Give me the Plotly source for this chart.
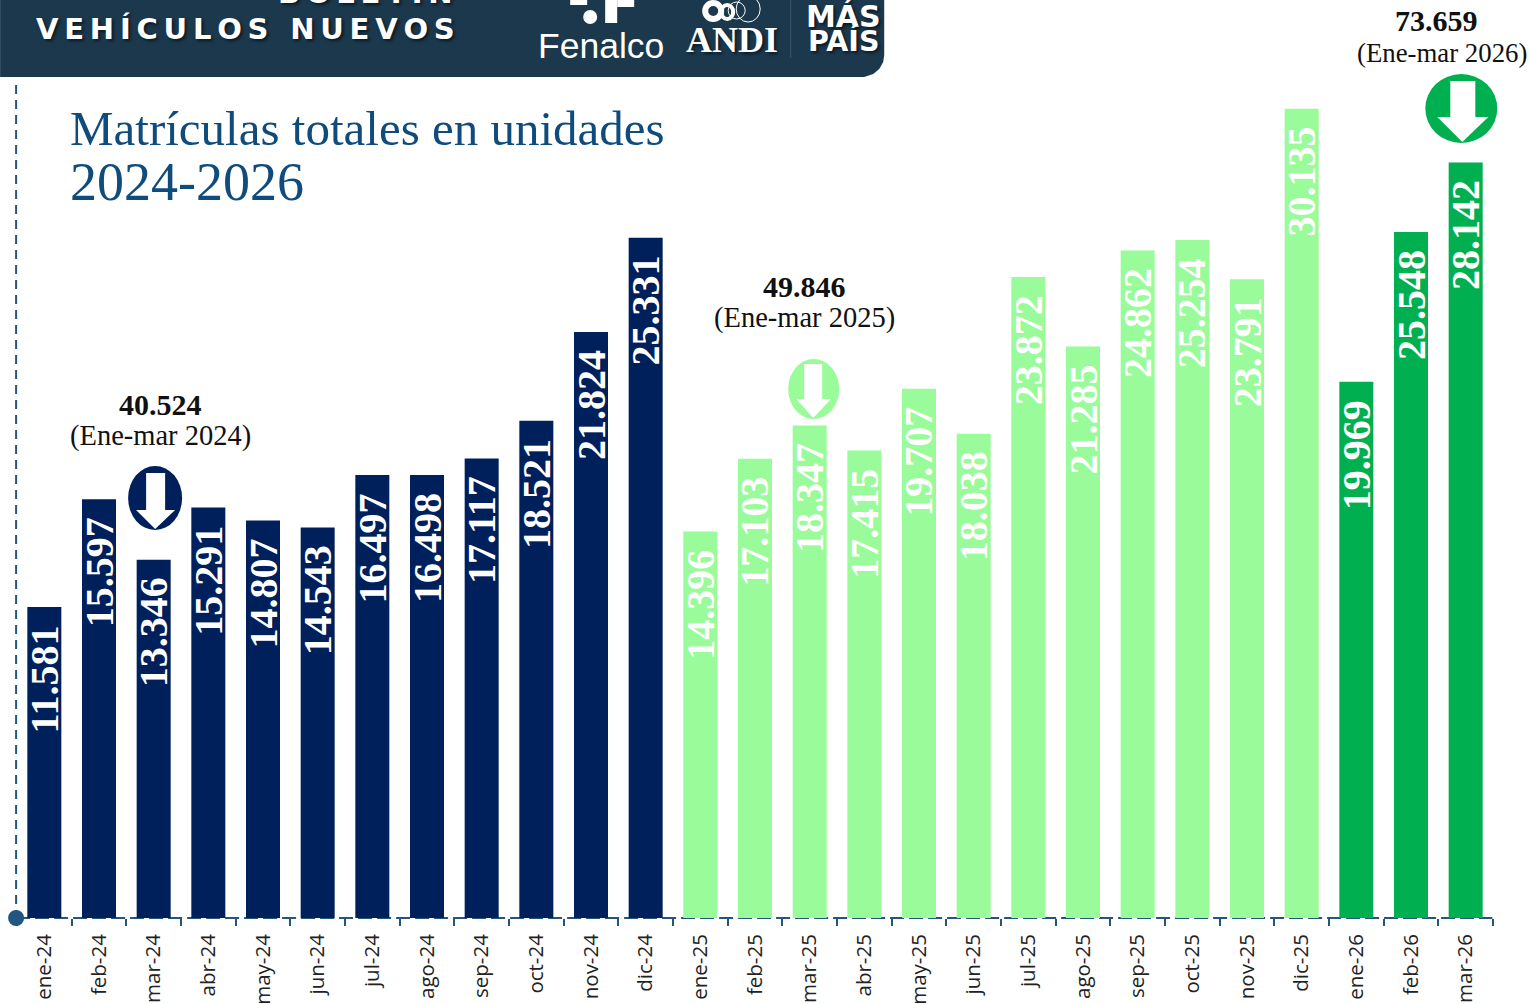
import plotly.graph_objects as go

months = ["ene-24","feb-24","mar-24","abr-24","may-24","jun-24","jul-24","ago-24","sep-24","oct-24","nov-24","dic-24",
          "ene-25","feb-25","mar-25","abr-25","may-25","jun-25","jul-25","ago-25","sep-25","oct-25","nov-25","dic-25",
          "ene-26","feb-26","mar-26"]
values_2024 = [11581,15597,13346,15291,14807,14543,16497,16498,17117,18521,21824,25331]
values_2025 = [14396,17103,18347,17415,19707,18038,23872,21285,24862,25254,23791,30135]
values_2026 = [19969,25548,28142]
totals = ["40.524","49.846","73.659"]
periods = ["(Ene-mar 2024)","(Ene-mar 2025)","(Ene-mar 2026)"]
title_lines = ["Matrículas totales en unidades","2024-2026"]

W,H = 1529,1004
L,R,T,B = 16.9,36.3,84,86
NAVY,LIGHT,GREEN = "#00205b","#99fb99","#00b050"
HEAD,AXIS,TITLE = "#1b384d","#23557f","#0f4c7d"
SERIF,SANS,HEAVY = "Liberation Serif","Liberation Sans","DejaVu Sans"
def px(x): return (x-L)/(W-L-R)
def py(y): return 1-(y-T)/(H-T-B)

fig = go.Figure()
splits = [(months[:12],values_2024,NAVY),(months[12:24],values_2025,LIGHT),(months[24:],values_2026,GREEN)]
for cats,vals,col in splits:
    fig.add_trace(go.Bar(x=cats,y=vals,marker=dict(color=col,line=dict(width=0)),width=0.622,showlegend=False,hoverinfo="x+y"))

ann = []
for cats,vals,col in splits:
    for c,v in zip(cats,vals):
        ann.append(dict(x=c,y=v,xref="x",yref="y",yshift=-16,text=f"{v:,}".replace(",","."),textangle=-90,
                        xanchor="center",yanchor="top",showarrow=False,
                        font=dict(family=SERIF,size=40,color="white",weight="bold")))

def text(x,y,s,size,color,family=SERIF,weight="normal",xanchor="center",shadow=None):
    f = dict(family=family,size=size,color=color,weight=weight)
    if shadow: f["shadow"]=shadow
    ann.append(dict(x=px(x),y=py(y),xref="paper",yref="paper",text=s,showarrow=False,xanchor=xanchor,yanchor="middle",font=f,borderpad=0,borderwidth=0))

for (x,y),t in zip([(160,404),(804,286),(1436,20)],totals):
    text(x,y,t,30,"#111",weight="bold")
for (x,y),t,s in zip([(160,436),(804,318),(1442,53)],periods,[28.5,28.5,26.8]):
    text(x,y,t,s,"#111")
text(70,128,title_lines[0],49,TITLE,xanchor="left")
text(70,182,title_lines[1],54,TITLE,xanchor="left")
SH="2px 2px 3px rgba(0,0,0,0.55)"
text(245,29,"\u2009".join("VEHÍCULOS")+"\u2009 \u2009"+"\u2009".join("NUEVOS"),29,"white",family=HEAVY,weight="bold",shadow=SH)
text(365,-7,"\u2009".join("BOLETÍN"),29,"white",family=HEAVY,weight="bold",shadow=SH)
text(601,46,"Fenalco",35.5,"white",family=SANS)
text(732,40,"ANDI",36,"white",weight="bold",shadow=SH)
text(843,16,"MÁS",30,"white",family=HEAVY,weight="bold",shadow=SH)
text(843,41,"PAÍS",28.5,"white",family=HEAVY,weight="bold",shadow=SH)

def rect(x0,y0,x1,y1,col):
    return dict(type="rect",xref="paper",yref="paper",x0=px(x0),x1=px(x1),y0=py(y0),y1=py(y1),fillcolor=col,line=dict(width=0),layer="above")
def oval(x0,y0,x1,y1,col,lw=0,lc="white"):
    return dict(type="circle",xref="paper",yref="paper",x0=px(x0),x1=px(x1),y0=py(y0),y1=py(y1),fillcolor=col,line=dict(width=lw,color=lc),layer="above")
def poly(pts,col):
    p = "M "+" L ".join(f"{px(a):.5f} {py(b):.5f}" for a,b in pts)+" Z"
    return dict(type="path",xref="paper",yref="paper",path=p,fillcolor=col,line=dict(width=0),layer="above")
def arrow(e,r,h,tip,col):
    return [oval(*e,col),
            poly([(r[0],r[1]),(r[2],r[1]),(r[2],r[3]),(h[1],r[3]),(tip[0],tip[1]),(h[0],r[3]),(r[0],r[3])],"white")]

# header panel with rounded corner
panel = [(0,0),(884,0),(884,55),(883,62),(879,69),(873,74),(864,77),(0,77)]
shapes = [poly(panel,HEAD)]
shapes += [rect(790,0,791,58,"#3c5a6e")]
shapes += [oval(583,10,597,24,"white"),rect(605,0,617,23,"white"),rect(617,0,634,7,"white"),rect(570,0,587,5,"white")]
shapes += [oval(705,3,721,19,"rgba(0,0,0,0)",6),oval(721,5,733,19,"rgba(0,0,0,0)",4),oval(728,2,745,19,"rgba(0,0,0,0)",1),oval(736,-4,760,22,"rgba(0,0,0,0)",1)]
shapes += arrow((128,466,182,530),(146,473,165,510),(136,175),(155,529),NAVY)
shapes += arrow((788,359,839,419),(804,364,822,399),(796,831),(813,418),LIGHT)
shapes += arrow((1425,74,1497,143),(1450,81,1475,117),(1437,1488),(1462,142),GREEN)
# dashed axes
shapes.append(dict(type="line",xref="paper",yref="paper",x0=px(16),x1=px(1492),y0=py(918),y1=py(918),line=dict(color=AXIS,width=2,dash="14px,5px"),layer="below"))
shapes.append(dict(type="line",xref="paper",yref="paper",x0=px(16),x1=px(16),y0=py(85),y1=py(912),line=dict(color=AXIS,width=2,dash="9px,6px"),layer="below"))
shapes.append(oval(8,910,24,926,"#215582"))

fig.update_layout(width=W,height=H,margin=dict(l=L,r=R,t=T,b=B,pad=0,autoexpand=False),
    paper_bgcolor="white",plot_bgcolor="white",barmode="overlay",showlegend=False,
    annotations=ann,shapes=shapes,
    xaxis=dict(type="category",categoryorder="array",categoryarray=months,range=[-0.5,26.5],
               tickmode="array",tickvals=months,ticktext=months,tickson="boundaries",ticks="outside",ticklen=7,tickwidth=2,tickcolor=AXIS,
               tickangle=-90,tickfont=dict(family="Open Sans",size=20.5,color="#222"),ticklabelstandoff=11,
               showline=False,showgrid=False,zeroline=False),
    yaxis=dict(range=[0,31061],visible=False,showgrid=False,zeroline=False))

fig.write_html("out.html",config={"displayModeBar":False},post_script="document.body.style.margin='0';document.documentElement.style.overflow='hidden';")
